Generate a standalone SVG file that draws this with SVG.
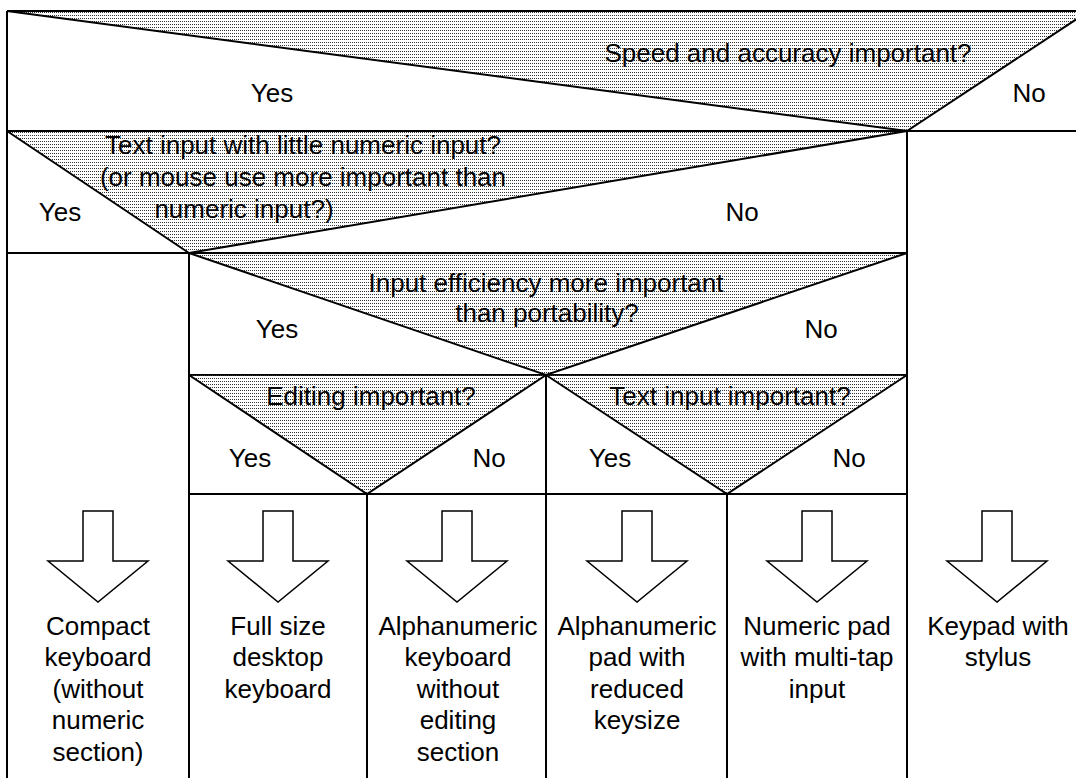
<svg xmlns="http://www.w3.org/2000/svg" width="1076" height="778" viewBox="0 0 1076 778">
<style>
  text { font-family: "Liberation Sans", Arial, sans-serif; font-size: 26px; fill: #000; text-anchor: middle; }
  .shade { fill: url(#dots); stroke: none; }
  .edge { stroke: #000; stroke-width: 2; fill: none; }
  .grid { stroke: #000; stroke-width: 2; fill: none; }
  .barrow { fill: #fff; stroke: #000; stroke-width: 1.5; }
</style>
<defs>
  <pattern id="dots" width="2" height="3" patternUnits="userSpaceOnUse">
    <rect x="0" y="0" width="1" height="1" fill="#333"/>
  </pattern>
  <polygon id="blockArrow" points="-15,0 15,0 15,50 50,50 0,91 -50,50 -15,50"/>
</defs>
<rect width="1076" height="778" fill="#fff"/>

<g id="grid" class="grid">
  <line x1="7" y1="11" x2="1076" y2="11"/>
  <line x1="7" y1="11" x2="7" y2="778"/>
  <line x1="7" y1="131" x2="1076" y2="131"/>
  <line x1="7" y1="253" x2="907" y2="253"/>
  <line x1="189" y1="375" x2="907" y2="375"/>
  <line x1="189" y1="494" x2="907" y2="494"/>
  <line x1="907" y1="131" x2="907" y2="778"/>
  <line x1="189" y1="253" x2="189" y2="778"/>
  <line x1="367" y1="494" x2="367" y2="778"/>
  <line x1="546" y1="375" x2="546" y2="778"/>
  <line x1="727" y1="494" x2="727" y2="778"/>
</g>

<g id="decision-speed">
  <polygon class="shade" points="7,11 907,131 1089,11"/>
  <polyline class="edge" points="7,11 907,131 1089,11"/>
  <text x="788" y="62">Speed and accuracy important?</text>
  <text x="272" y="102">Yes</text>
  <text x="1029" y="102">No</text>
</g>

<g id="decision-text">
  <polygon class="shade" points="7,131 189,253 907,131"/>
  <polyline class="edge" points="7,131 189,253 907,131"/>
  <text x="303" y="154">Text input with little numeric input?</text>
  <text x="303" y="186">(or mouse use more important than</text>
  <text x="244" y="218">numeric input?)</text>
  <text x="60" y="221">Yes</text>
  <text x="742" y="221">No</text>
</g>

<g id="decision-efficiency">
  <polygon class="shade" points="189,253 546,375 907,253"/>
  <polyline class="edge" points="189,253 546,375 907,253"/>
  <text x="546" y="292">Input efficiency more important</text>
  <text x="547" y="322">than portability?</text>
  <text x="277" y="338">Yes</text>
  <text x="821" y="338">No</text>
</g>

<g id="decision-editing">
  <polygon class="shade" points="189,375 367,494 546,375"/>
  <polyline class="edge" points="189,375 367,494 546,375"/>
  <text x="371" y="405">Editing important?</text>
  <text x="250" y="467">Yes</text>
  <text x="489" y="467">No</text>
</g>

<g id="decision-textinput">
  <polygon class="shade" points="546,375 727,494 907,375"/>
  <polyline class="edge" points="546,375 727,494 907,375"/>
  <text x="730" y="405">Text input important?</text>
  <text x="610" y="467">Yes</text>
  <text x="849" y="467">No</text>
</g>

<g id="connectors">
  <use href="#blockArrow" class="barrow" x="98" y="511"/>
  <use href="#blockArrow" class="barrow" x="278" y="511"/>
  <use href="#blockArrow" class="barrow" x="457" y="511"/>
  <use href="#blockArrow" class="barrow" x="637" y="511"/>
  <use href="#blockArrow" class="barrow" x="817" y="511"/>
  <use href="#blockArrow" class="barrow" x="997" y="511"/>
</g>

<g id="outcome-compact">
  <text x="98" y="635">Compact</text>
  <text x="98" y="666">keyboard</text>
  <text x="98" y="698">(without</text>
  <text x="98" y="729">numeric</text>
  <text x="98" y="761">section)</text>
</g>
<g id="outcome-fullsize">
  <text x="278" y="635">Full size</text>
  <text x="278" y="666">desktop</text>
  <text x="278" y="698">keyboard</text>
</g>
<g id="outcome-alnum-keyboard">
  <text x="458" y="635">Alphanumeric</text>
  <text x="458" y="666">keyboard</text>
  <text x="458" y="698">without</text>
  <text x="458" y="729">editing</text>
  <text x="458" y="761">section</text>
</g>
<g id="outcome-alnum-pad">
  <text x="637" y="635">Alphanumeric</text>
  <text x="637" y="666">pad with</text>
  <text x="637" y="698">reduced</text>
  <text x="637" y="729">keysize</text>
</g>
<g id="outcome-numeric-pad">
  <text x="817" y="635">Numeric pad</text>
  <text x="817" y="666">with multi-tap</text>
  <text x="817" y="698">input</text>
</g>
<g id="outcome-stylus">
  <text x="998" y="635">Keypad with</text>
  <text x="998" y="666">stylus</text>
</g>
</svg>
